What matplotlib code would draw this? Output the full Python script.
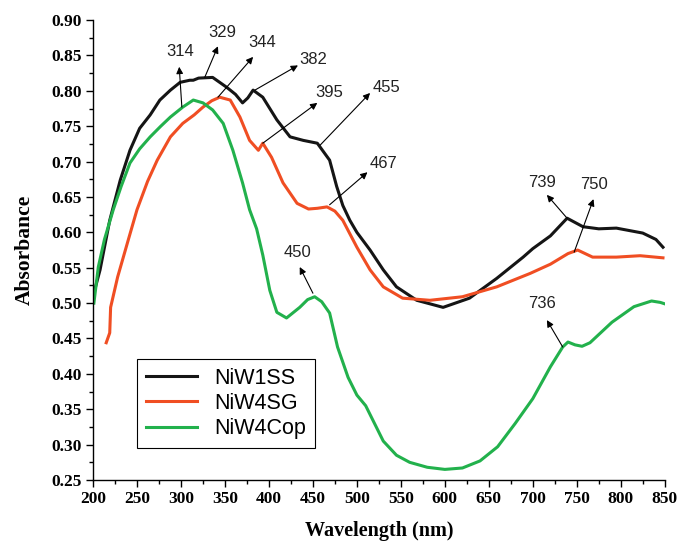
"""UV-Vis absorbance spectra of NiW catalysts."""

import matplotlib
matplotlib.use("Agg")
import matplotlib.pyplot as plt
from matplotlib.ticker import MultipleLocator

# NiW1SS (black)
wl_ss = [202, 208, 219, 231, 242, 253, 265, 276, 288, 299, 310, 314, 320, 336,
         352, 362, 370, 376, 382, 393, 409, 424, 439, 455, 469, 477, 484, 492,
         500, 515, 530, 545, 568, 598, 628, 659, 689, 700, 720, 739, 757, 775,
         795, 825, 840, 848]
abs_ss = [0.519, 0.547, 0.617, 0.674, 0.716, 0.747, 0.766, 0.787, 0.801, 0.812,
          0.815, 0.815, 0.818, 0.819, 0.805, 0.795, 0.783, 0.790, 0.801, 0.791,
          0.759, 0.735, 0.730, 0.726, 0.702, 0.665, 0.638, 0.617, 0.600, 0.575,
          0.547, 0.523, 0.504, 0.494, 0.507, 0.535, 0.565, 0.577, 0.595, 0.620,
          0.608, 0.605, 0.606, 0.599, 0.590, 0.579]

# NiW4SG (orange)
wl_sg = [215, 219, 220, 228, 240, 250, 262, 273, 288, 302, 315, 325, 335, 344,
         356, 367, 378, 388, 393, 403, 416, 432, 445, 455, 466, 475, 484, 500,
         515, 530, 552, 583, 620, 659, 697, 720, 740, 751, 768, 795, 822, 848]
abs_sg = [0.444, 0.458, 0.494, 0.537, 0.589, 0.632, 0.672, 0.702, 0.735, 0.754,
          0.766, 0.777, 0.786, 0.791, 0.787, 0.763, 0.730, 0.716, 0.726, 0.706,
          0.670, 0.641, 0.633, 0.634, 0.636, 0.630, 0.617, 0.579, 0.547, 0.523,
          0.507, 0.504, 0.509, 0.523, 0.542, 0.555, 0.570, 0.575, 0.565, 0.565,
          0.567, 0.564]

# NiW4Cop (green)
wl_cop = [201, 206, 213, 223, 232, 242, 253, 265, 277, 288, 302, 314, 325, 336,
          348, 359, 370, 378, 386, 393, 401, 409, 420, 435, 444, 452, 460, 469,
          478, 490, 500, 510, 520, 530, 545, 560, 580, 600, 620, 640, 660, 680,
          700, 720, 734, 740, 748, 756, 765, 790, 815, 835, 845, 850]
abs_cop = [0.500, 0.551, 0.590, 0.632, 0.665, 0.698, 0.718, 0.735, 0.750, 0.763,
           0.777, 0.787, 0.783, 0.773, 0.754, 0.716, 0.670, 0.632, 0.605, 0.568,
           0.518, 0.487, 0.479, 0.494, 0.505, 0.509, 0.502, 0.486, 0.438, 0.395,
           0.370, 0.355, 0.330, 0.305, 0.285, 0.275, 0.268, 0.265, 0.267, 0.277,
           0.297, 0.330, 0.365, 0.410, 0.438, 0.445, 0.441, 0.439, 0.444, 0.473,
           0.495, 0.503, 0.501, 0.499]

# peak labels: label, point on curve, arrow head, text position
peaks = [
    ("314", (301, 0.777), (298, 0.834), (299, 0.855)),
    ("329", (327, 0.819), (342, 0.863), (347, 0.883)),
    ("344", (342, 0.791), (382, 0.848), (392, 0.869)),
    ("382", (384, 0.801), (433, 0.836), (450, 0.845)),
    ("395", (393, 0.726), (455, 0.783), (469, 0.798)),
    ("455", (458, 0.723), (515, 0.797), (534, 0.805)),
    ("467", (469, 0.639), (512, 0.685), (530, 0.697)),
    ("450", (450, 0.514), (435, 0.551), (432, 0.571)),
    ("739", (739, 0.620), (716, 0.653), (710, 0.670)),
    ("750", (747, 0.572), (769, 0.647), (770, 0.667)),
    ("736", (734, 0.438), (716, 0.476), (711, 0.500)),
]

fig = plt.figure(figsize=(6.79, 5.43), dpi=100)
ax = fig.add_axes([0.137, 0.116, 0.842, 0.847])

ax.plot(wl_ss, abs_ss, color="#151515", lw=2.2, label="NiW1SS")
ax.plot(wl_sg, abs_sg, color="#F04E23", lw=2.2, label="NiW4SG")
ax.plot(wl_cop, abs_cop, color="#22B14C", lw=2.2, label="NiW4Cop")

for label, tail, head, txt in peaks:
    ax.annotate("", xy=head, xytext=tail,
                arrowprops=dict(arrowstyle="-|>", color="black", lw=0.8,
                                mutation_scale=10, shrinkA=0, shrinkB=0))
    ax.text(txt[0], txt[1], label, ha="center", va="center",
            fontsize=12, family="Liberation Sans", color="#222222")

ax.set_xlim(200, 850)
ax.set_ylim(0.25, 0.90)
ax.xaxis.set_major_locator(MultipleLocator(50))
ax.xaxis.set_minor_locator(MultipleLocator(25))
ax.yaxis.set_major_locator(MultipleLocator(0.05))
ax.yaxis.set_minor_locator(MultipleLocator(0.025))
ax.yaxis.set_major_formatter(plt.FormatStrFormatter("%.2f"))

for side in ("top", "right"):
    ax.spines[side].set_visible(False)
for side in ("left", "bottom"):
    ax.spines[side].set_linewidth(1.0)

ax.tick_params(which="major", direction="out", length=5, width=1, pad=3)
ax.tick_params(which="minor", direction="out", length=3, width=1)
for lab in ax.get_xticklabels() + ax.get_yticklabels():
    lab.set_family("Liberation Serif")
    lab.set_fontweight("bold")
    lab.set_fontsize(12.5)

ax.set_xlabel("Wavelength (nm)", family="Liberation Serif", fontweight="bold",
              fontsize=14.5, labelpad=10)
ax.set_ylabel("Absorbance", family="Liberation Serif", fontweight="bold",
              fontsize=15.5, labelpad=12)

leg = ax.legend(loc="lower left", bbox_to_anchor=(0.077, 0.07),
                borderaxespad=0, fancybox=False, framealpha=1,
                edgecolor="black", handlelength=2.4, labelspacing=0.2,
                prop={"family": "Liberation Sans", "size": 15.5})
leg.get_frame().set_linewidth(0.8)

fig.savefig("out.png", dpi=100)
